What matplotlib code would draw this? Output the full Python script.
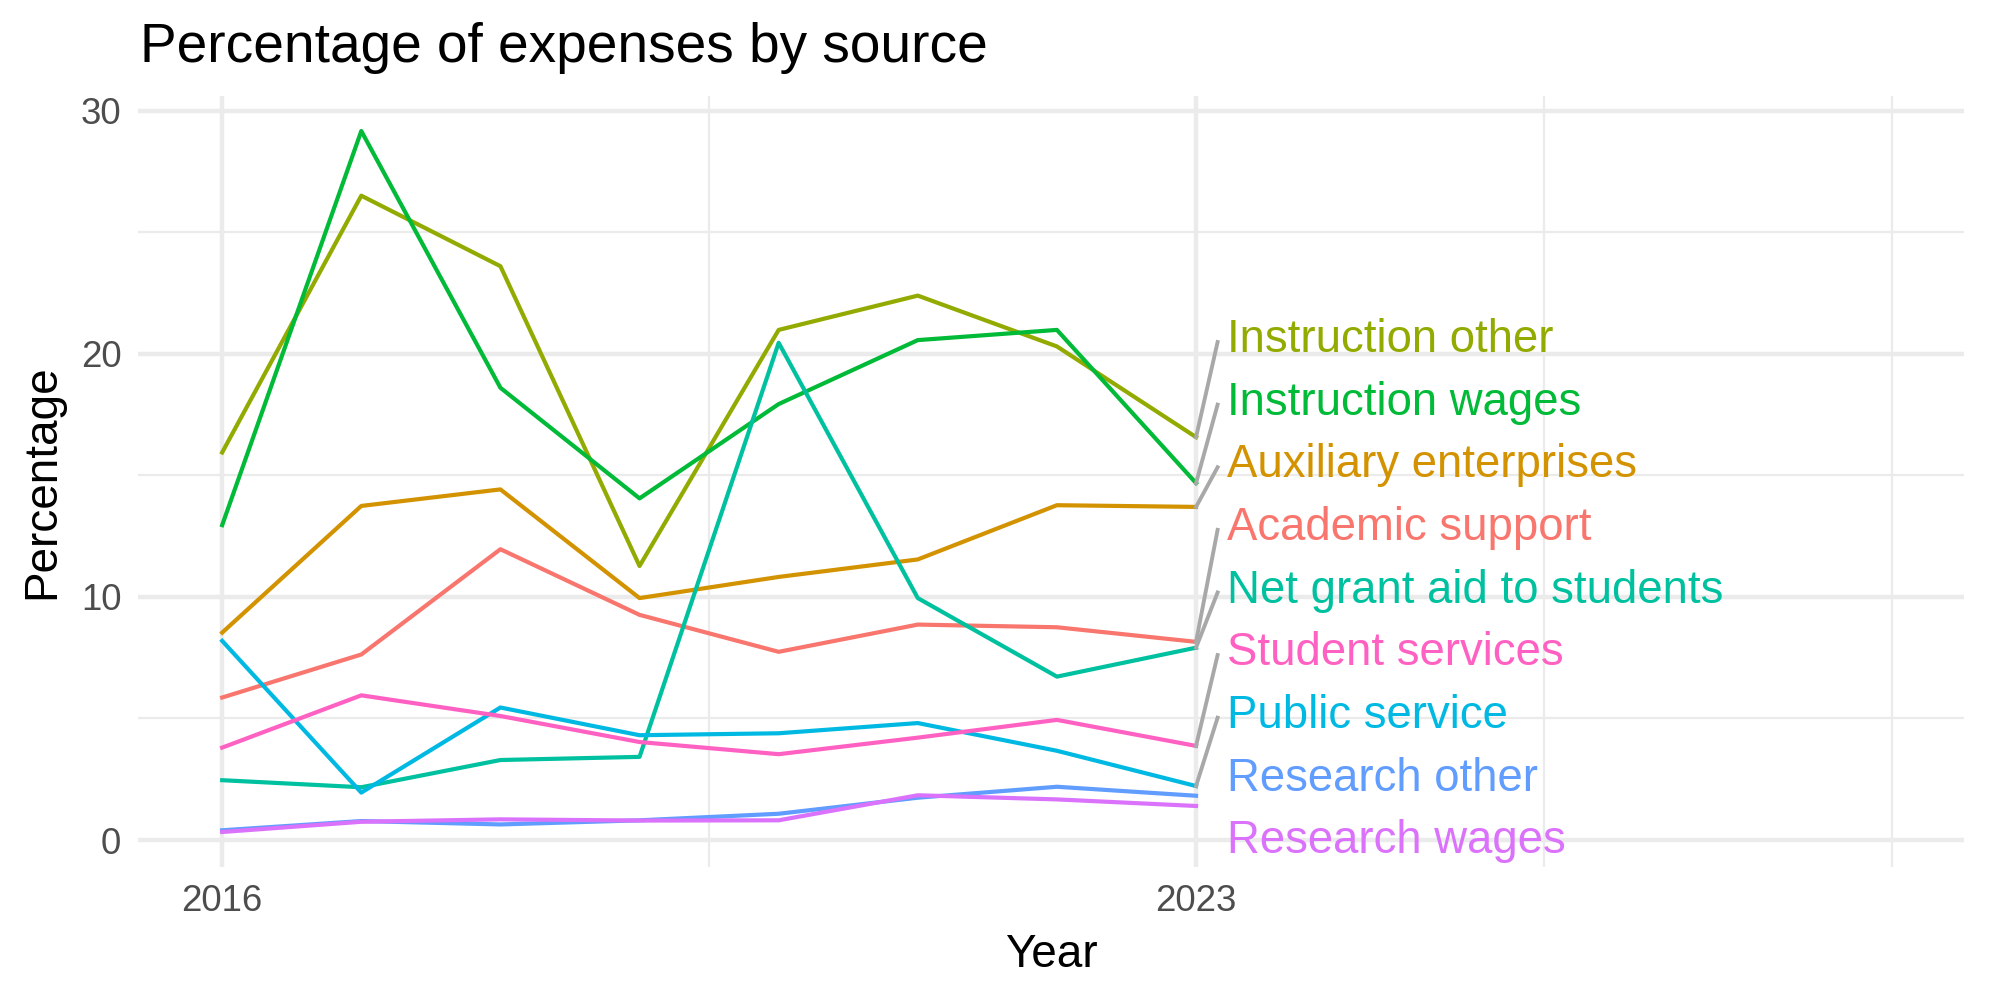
import matplotlib
matplotlib.use("Agg")
import matplotlib.pyplot as plt

plt.rcParams['font.family'] = ['Liberation Sans', 'DejaVu Sans']

years = [2016, 2017, 2018, 2019, 2020, 2021, 2022, 2023]

academic_support = [5.86, 7.63, 11.96, 9.26, 7.74, 8.86, 8.75, 8.15]
auxiliary_enterprises = [8.53, 13.74, 14.42, 9.95, 10.82, 11.54, 13.77, 13.70]
instruction_other = [15.94, 26.50, 23.60, 11.27, 20.98, 22.39, 20.30, 16.57]
instruction_wages = [12.95, 29.16, 18.60, 14.05, 17.93, 20.56, 20.98, 14.68]
net_grant_aid = [2.46, 2.17, 3.29, 3.42, 20.45, 9.95, 6.72, 7.91]
public_service = [8.19, 1.95, 5.45, 4.31, 4.39, 4.81, 3.67, 2.22]
research_other = [0.40, 0.78, 0.64, 0.81, 1.08, 1.74, 2.19, 1.82]
research_wages = [0.33, 0.75, 0.85, 0.80, 0.81, 1.84, 1.67, 1.40]
student_services = [3.80, 5.95, 5.10, 4.03, 3.53, 4.21, 4.94, 3.87]

sources = ["Academic support", "Auxiliary enterprises", "Instruction other",
           "Instruction wages", "Net grant aid to students", "Public service",
           "Research other", "Research wages", "Student services"]
series = [academic_support, auxiliary_enterprises, instruction_other,
          instruction_wages, net_grant_aid, public_service,
          research_other, research_wages, student_services]
colors = ["#F8766D", "#D39200", "#93AA00", "#00BA38", "#00C19F",
          "#00B9E3", "#619CFF", "#DB72FB", "#FF61C3"]

# order of the repelled labels, top to bottom
label_order = ["Instruction other", "Instruction wages", "Auxiliary enterprises",
               "Academic support", "Net grant aid to students", "Student services",
               "Public service", "Research other", "Research wages"]
no_segment = ["Research other", "Research wages"]


def main():
    fig = plt.figure(figsize=(10, 5), dpi=200)
    ax = fig.add_axes([0.069, 0.133, 0.913, 0.771])

    # grid, theme_minimal style
    for y in [0, 10, 20, 30]:
        ax.axhline(y, color="#EBEBEB", lw=1.6, zorder=0)
    for y in [5, 15, 25]:
        ax.axhline(y, color="#EBEBEB", lw=0.8, zorder=0)
    for x in [2016, 2023]:
        ax.axvline(x, color="#EBEBEB", lw=1.6, zorder=0)
    for x in [2019.5, 2025.5, 2028]:
        ax.axvline(x, color="#EBEBEB", lw=0.8, zorder=0)

    for name, vals, col in zip(sources, series, colors):
        ax.plot(years, vals, color=col, lw=1.5, zorder=2)

    # labels stacked at the right end
    gap = 2.575
    n = len(label_order)
    for i, name in enumerate(label_order):
        k = sources.index(name)
        ly = 0.16 + gap * (n - 1 - i)
        ax.text(2023.22, ly, name, color=colors[k], fontsize=16.4,
                ha="left", va="center_baseline", zorder=3)
        if name not in no_segment:
            ax.plot([2023, 2023.155], [series[k][-1], ly - 0.28],
                    color="#A8A8A8", lw=1.4, zorder=3)

    ax.set_xlim(2015.395, 2028.52)
    ax.set_ylim(-1.11, 30.6)
    ax.set_xticks([2016, 2023])
    ax.set_yticks([0, 10, 20, 30])
    ax.tick_params(length=0, labelsize=13.2, labelcolor="#4D4D4D", pad=6)
    for s in ax.spines.values():
        s.set_visible(False)

    ax.set_xlabel("Year", fontsize=16.5, labelpad=5)
    ax.set_ylabel("Percentage", fontsize=16.5, labelpad=6)
    fig.text(0.07, 0.938, "Percentage of expenses by source", fontsize=19.8,
             ha="left", va="baseline")

    fig.savefig("out.png", dpi=200, facecolor="white")


if __name__ == "__main__":
    main()
